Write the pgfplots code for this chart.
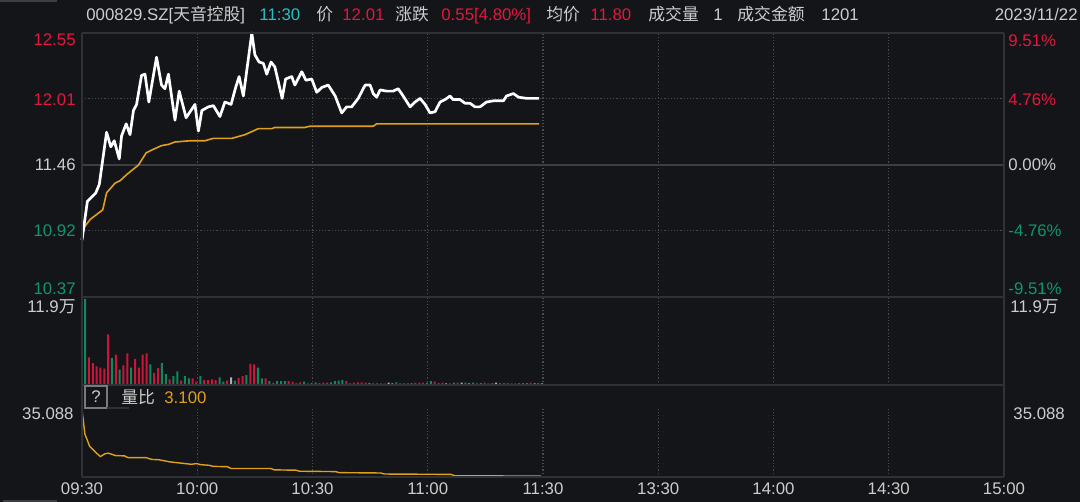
\documentclass[border=0pt]{standalone}
\usepackage{fontspec}
\setmainfont{Liberation Sans}
\newfontfamily\cjk{Noto Sans CJK SC}
\usepackage{pgfplots}
\usepackage{pgfplotstable}
\pgfplotsset{compat=1.18}

\definecolor{bgc}{RGB}{19,21,24}
\definecolor{redc}{RGB}{230,22,62}
\definecolor{greenc}{RGB}{16,150,106}
\definecolor{barred}{RGB}{205,20,58}
\definecolor{bargreen}{RGB}{16,135,95}
\definecolor{bargray}{RGB}{175,175,175}
\definecolor{yelc}{RGB}{224,160,24}
\definecolor{txtc}{RGB}{205,205,205}
\definecolor{gridc}{RGB}{72,75,80}
\definecolor{framec}{RGB}{46,49,53}
\definecolor{midc}{RGB}{60,62,66}
\definecolor{cyanc}{RGB}{40,190,195}

% minutes since 09:30, price
\pgfplotstableread{
m p
0 10.84
1.4 11.16
3.6 11.23
4.5 11.30
6.4 11.73
7.5 11.61
8.4 11.66
9.7 11.51
10.3 11.70
11.5 11.80
12.5 11.71
13.4 11.91
14.2 11.96
15.5 12.20
16.4 12.21
17.4 11.98
19.4 12.35
20.7 12.12
21.6 12.09
22.5 12.21
24.2 11.83
25.3 12.07
27.1 11.85
29.4 11.96
30.3 11.74
31.2 11.91
32.9 11.94
34.2 11.95
35.9 11.86
37.2 11.98
38.8 11.96
40.0 12.10
40.9 12.19
42.0 12.03
44.2 12.55
45.0 12.37
46.1 12.31
47.2 12.30
48.1 12.21
49.2 12.31
50.2 12.27
52.1 12.01
53.0 12.17
54.6 12.19
55.4 12.12
57.2 12.23
58.3 12.16
59.8 12.17
61.1 12.06
62.4 12.10
64.1 12.12
65.9 12.03
67.6 11.89
68.9 11.94
70.2 11.94
71.9 12.01
73.7 12.12
75.0 12.12
75.8 12.05
76.7 12.02
77.6 12.08
79.3 12.07
81.0 12.07
82.3 12.09
83.6 12.03
85.4 11.94
86.7 11.98
88.0 12.01
89.3 11.96
90.6 11.89
91.9 11.90
93.2 11.98
94.5 12.00
95.8 12.03
96.6 12.00
98.4 12.00
99.7 11.97
101.0 11.97
102.3 11.94
103.6 11.94
105.3 11.98
107.1 11.99
109.7 11.99
110.5 12.03
112.3 12.05
113.6 12.02
115.8 12.01
117.1 12.01
119 12.01
}\pricetab

% average price
\pgfplotstableread{
m p
0 10.92
2.1 11.01
5.4 11.09
6.4 11.23
8.6 11.31
9.9 11.33
11.6 11.38
14.7 11.46
16.7 11.56
18.6 11.59
20.7 11.62
22.5 11.63
24.2 11.65
28.1 11.66
32 11.66
34.2 11.68
39 11.68
42.4 11.71
45.9 11.76
49.4 11.76
50.2 11.77
58 11.77
59.3 11.78
75.8 11.78
76.7 11.80
119 11.80
}\avgtab

% volume ratio
\pgfplotstableread{
m r
0 35.088
0.75 23.36
1.97 17.50
3.57 14.49
4.79 12.48
5.92 13.82
6.85 14.15
8.73 12.98
11.08 12.81
12.02 11.97
16.71 11.97
18.12 11.13
20.0 10.97
22.82 9.96
25.17 9.46
28.45 8.79
29.86 9.12
30.80 8.62
33.15 8.29
34.09 7.79
37.84 7.62
38.78 6.78
49.11 6.78
50.05 6.11
55.68 5.94
56.62 5.44
66.01 5.27
66.95 4.77
77.75 4.60
78.69 4.10
96.06 3.93
97.0 3.27
119.5 3.10
}\ratiotab

% volume bars: minute index, volume
\pgfplotstableread{
i v
1 38300
2 30200
3 25700
4 23900
5 22500
6 69900
8 41900
10 27000
11 43700
13 36100
14 23900
15 41900
16 43700
18 16700
19 23400
22 7700
25 5900
28 9000
29 4500
31 6800
32 6800
33 7700
34 6800
37 5900
40 9900
41 12200
43 29300
44 28400
47 9000
49 3200
53 5400
54 4500
56 3600
58 2300
61 2700
62 3200
63 3200
68 5400
70 3200
71 3600
72 3600
73 3200
77 2300
82 2300
86 3200
87 3200
88 3200
91 4500
92 2700
93 3200
95 2300
97 3200
104 3200
105 2300
106 2700
108 2700
109 2700
110 2700
111 2300
112 2300
113 2700
116 3200
}\volred

\pgfplotstableread{
i v
0 119000
7 37000
9 21200
12 23900
17 28400
20 30200
21 14900
23 12200
24 18900
26 12200
27 9000
30 12600
35 10400
36 4500
39 5900
42 13500
45 23900
46 9000
48 5400
50 5400
51 5400
52 5400
55 2300
57 4500
59 2700
60 3600
64 3600
65 5400
66 5900
67 6800
69 2300
75 2300
76 2300
78 1800
81 3600
83 2300
84 2300
85 2700
89 3200
90 5400
96 3200
99 3200
101 3200
102 2300
103 2700
114 2700
115 2700
118 2700
}\volgreen

\pgfplotstableread{
i v
38 10400
74 2300
79 3200
80 2300
94 2300
98 3200
100 2300
107 3200
117 2300
119 2300
}\volgray

\pgfplotsset{
  panel/.style={
    scale only axis, width=461pt, xmin=0, xmax=240,
    axis line style={draw=none}, tick style={draw=none},
    xtick={30,60,...,210}, xticklabels={}, ytick=\empty, yticklabels={},
    xmajorgrids, ymajorgrids,
    grid style={gridc, dash pattern=on 0.6pt off 1pt, line width=0.6pt},
    anchor=south west,
  },
}
\tikzset{lab/.style={font=\fontsize{8.4}{10}\selectfont, inner sep=0pt, text height=6pt, text depth=0pt}}

\begin{document}
\begin{tikzpicture}[x=0.5pt, y=0.5pt]
\useasboundingbox (0,0) rectangle (1080,502);
\fill[bgc] (0,0) rectangle (1080,502);
\fill[midc] (0,499.5) rectangle (57,502);
\fill[midc] (3,0) rectangle (57,2);

% price panel
\begin{axis}[panel, at={(41pt,102.5pt)}, height=132pt, ymin=10.37, ymax=12.55,
  ytick={10.92,12.01}, extra y ticks={11.46}, extra y tick labels={},
  extra y tick style={grid style={solid, midc, line width=1pt}}, clip=false]
  \addplot[yelc, line width=0.8pt] table[x=m, y=p] {\avgtab};
  \addplot[white, line width=1.35pt, line join=round] table[x=m, y=p] {\pricetab};
\end{axis}

% volume panel
\begin{axis}[panel, at={(41pt,58.5pt)}, height=44pt, ymin=0, ymax=121500]
  \addplot[ybar, bar width=1pt, bar shift=0pt, fill=barred, draw=none] table[x expr=\thisrow{i}+0.8, y=v] {\volred};
  \addplot[ybar, bar width=1pt, bar shift=0pt, fill=bargreen, draw=none] table[x expr=\thisrow{i}+0.8, y=v] {\volgreen};
  \addplot[ybar, bar width=1pt, bar shift=0pt, fill=bargray, draw=none] table[x expr=\thisrow{i}+0.8, y=v] {\volgray};
\end{axis}

% volume ratio panel
\begin{axis}[panel, at={(41pt,12.5pt)}, height=34.5pt, ymin=2.67, ymax=35.86,
  xtick={0,30,...,240},
  xticklabels={09:30,10:00,10:30,11:00,11:30,13:30,14:00,14:30,15:00},
  xticklabel style={txtc, font=\fontsize{8.4}{10}\selectfont, inner sep=0pt, yshift=-2.5pt},
  ymajorgrids=false]
  \addplot[yelc, line width=0.7pt] table[x=m, y=r] {\ratiotab};
\end{axis}

% frame
\draw[framec, line width=0.6pt] (82,469) -- (1004,469);
\draw[framec, line width=0.6pt] (82,205) -- (1004,205);
\draw[framec, line width=0.6pt] (82,117) -- (1004,117);
\draw[framec, line width=0.6pt] (82,25) -- (1004,25);
\draw[framec, line width=0.6pt] (82,469) -- (82,25);
\draw[framec, line width=0.6pt] (1004,469) -- (1004,25);

% header
\begin{scope}[every node/.style={lab, anchor=west, txtc}]
\node at (86,487) {000829.SZ[{\cjk 天音控股}]};
\node[cyanc] at (259,487) {11:30};
\node at (316,487) {\cjk 价};
\node[redc] at (342,487) {12.01};
\node at (395,487) {\cjk 涨跌};
\node[redc] at (441,487) {0.55[4.80\%]};
\node at (546,487) {\cjk 均价};
\node[redc] at (590,487) {11.80};
\node at (648,487) {\cjk 成交量};
\node at (713,487) {1};
\node at (737,487) {\cjk 成交金额};
\node at (821,487) {1201};
\node[anchor=east] at (1078,487) {2023/11/22};
\end{scope}

% left labels
\begin{scope}[every node/.style={lab, anchor=east}]
\node[redc] at (76,462) {12.55};
\node[redc] at (76,402) {12.01};
\node[txtc] at (76,337) {11.46};
\node[greenc] at (76,271) {10.92};
\node[greenc] at (76,213.5) {10.37};
\node[txtc] at (76,195.5) {11.9{\cjk 万}};
\node[txtc] at (74,88) {35.088};
\end{scope}

% right labels
\begin{scope}[every node/.style={lab, anchor=west}]
\node[redc] at (1008,461) {9.51\%};
\node[redc] at (1008,402) {4.76\%};
\node[txtc] at (1008,337) {0.00\%};
\node[greenc] at (1008,271) {-4.76\%};
\node[greenc] at (1008,213.5) {-9.51\%};
\node[txtc] at (1010,195.5) {11.9{\cjk 万}};
\node[txtc] at (1013,88) {35.088};
\end{scope}

% volume ratio caption
\draw[txtc!55!bgc, line width=0.6pt] (85,94) rectangle (107,116);
\draw[framec, line width=0.6pt] (107,94) -- (129,94);
\node[lab, txtc] at (96,105) {?};
\node[lab, txtc, anchor=west] at (121,104) {\cjk 量比};
\node[lab, yelc, anchor=west] at (164,104) {3.100};
\end{tikzpicture}
\end{document}
